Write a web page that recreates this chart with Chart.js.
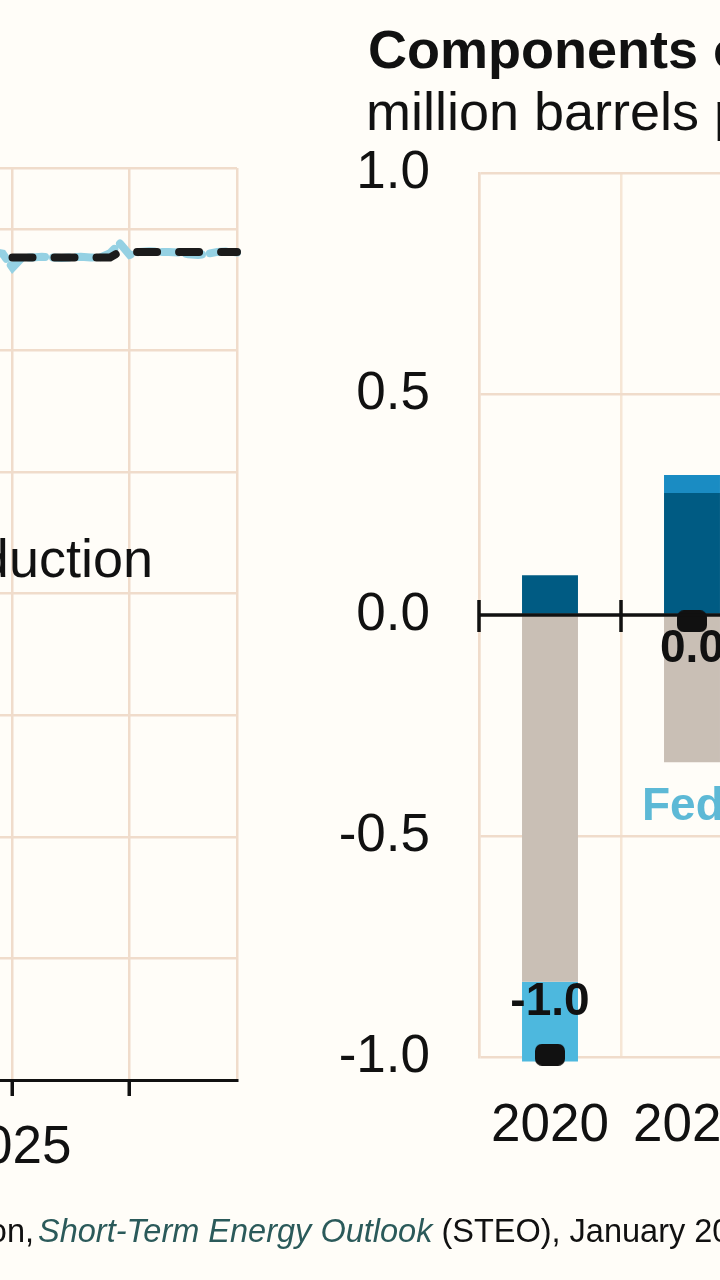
<!DOCTYPE html>
<html><head><meta charset="utf-8">
<script src="https://cdn.jsdelivr.net/npm/chart.js@4.4.1/dist/chart.umd.min.js"></script>
<style>
html,body{margin:0;padding:0;width:720px;height:1280px;overflow:hidden;background:#fffdf8;font-family:'Liberation Sans',Arial,sans-serif;color:#111;}
.t{position:absolute;white-space:nowrap;line-height:1;}
canvas{position:absolute;}
</style></head><body>
<canvas id="left" width="248" height="1280" style="left:-7px;top:0;width:248px;height:1280px"></canvas>
<canvas id="right" width="463" height="1280" style="left:300px;top:0;width:463px;height:1280px"></canvas>
<div class="t" style="left:368px;top:22px;font-size:54px;font-weight:bold">Components of annual change</div>
<div class="t" style="left:366px;top:84px;font-size:54px">million barrels per day</div>
<div class="t" style="right:567px;top:531px;font-size:54px;text-align:right">U.S. crude oil production</div>
<div class="t" style="left:642px;top:781px;font-size:46px;font-weight:bold;color:#5db9d6">Federal Gulf of Mexico</div>
<div class="t" style="right:686px;top:1215px;font-size:32.5px;text-align:right">Source: U.S. Energy Information Administration,</div>
<div class="t" style="left:38px;top:1215px;font-size:32.5px"><i style="color:#2b5a5a">Short-Term Energy Outlook</i> (STEO), January 2025</div>
<script>
// ---------- Left panel data (monthly, million barrels per day) ----------
const months = ['2024-11','2024-12',
  '2025-01','2025-02','2025-03','2025-04','2025-05','2025-06','2025-07','2025-08','2025-09','2025-10','2025-11','2025-12',
  '2026-01','2026-02','2026-03','2026-04','2026-05','2026-06','2026-07','2026-08','2026-09','2026-10','2026-11','2026-12'];
const forecast = [null,null,
  13.53,13.53,13.53,13.53,13.53,13.53,13.53,13.53,13.53,13.53,13.53,13.62,
  13.62,13.62,13.62,13.62,13.62,13.62,13.62,13.62,13.62,13.62,13.62,13.62];
const prior = [13.62,13.59,
  13.36,13.53,13.53,13.54,13.53,13.52,13.53,13.54,13.53,13.53,13.60,13.76,
  13.57,13.62,13.63,13.62,13.62,13.61,13.58,13.57,13.59,13.62,13.63,13.61];
const leftGrid = [0,2,4,6,8,10,12,14,15];
const leftYearLabels = ['2025'];

// ---------- Right panel data (annual change, million barrels per day) ----------
const years = ['2020','2021'];
const permian = [0.09, 0.276];
const alaska = [0.0, 0.041];
const otherL48 = [-0.83, -0.333];
const gom = [-0.18, 0.0];
const totals = [-0.995, -0.014];
const rightTicks = [-1.0,-0.5,0.0,0.5,1.0];

const GRID = '#f0dccb';
const FONT = 'Liberation Sans';

function makeMarker(w,h,r){
  const c=document.createElement('canvas');c.width=w;c.height=h;
  const g=c.getContext('2d');g.fillStyle='#111';
  g.beginPath();g.moveTo(r,0);g.lineTo(w-r,0);g.arcTo(w,0,w,r,r);g.lineTo(w,h-r);g.arcTo(w,h,w-r,h,r);
  g.lineTo(r,h);g.arcTo(0,h,0,h-r,r);g.lineTo(0,r);g.arcTo(0,0,r,0,r);g.closePath();g.fill();
  return c;
}
const marker = makeMarker(30,22,7);

new Chart(document.getElementById('left'), {
  type:'line',
  data:{labels:months, datasets:[
    {label:'STEO forecast', data:forecast, borderColor:'#1b1b1b', borderWidth:8, borderDash:[20,22], borderCapStyle:'round', pointRadius:0, tension:0, order:-1},
    {label:'Previous STEO', data:prior, borderColor:'#95d1e3', borderWidth:8, borderDash:[16,8], borderCapStyle:'round', pointRadius:0, tension:0}
  ]},
  options:{
    responsive:false, animation:false, events:[],
    layout:{autoPadding:false, padding:{top:168,right:4,left:0,bottom:0}},
    plugins:{legend:{display:false}, tooltip:{enabled:false}},
    scales:{
      x:{
        ticks:{autoSkip:false,maxRotation:0,minRotation:0,padding:0,color:'#111',font:{family:FONT,size:53,lineHeight:104/53},
          callback:(v,i)=>{const m=months[i];return (m.endsWith('-01') && leftYearLabels.includes(m.slice(0,4)))?m.slice(0,4):'';}},
        grid:{color:c=>{const m=months[c.index];return (m && (m.endsWith('-01')||c.index===months.length-1))?GRID:'rgba(0,0,0,0)';},
          lineWidth:2.5, tickLength:16, tickWidth:3.5,
          tickColor:c=>{const m=months[c.index];return (m && m.endsWith('-01'))?'#111':'rgba(0,0,0,0)';}},
        border:{display:true,color:'#111',width:3},
        afterFit:s=>{s.height=200;}
      },
      y:{min:0,max:15,
        afterBuildTicks:s=>{s.ticks=leftGrid.map(v=>({value:v}));},
        ticks:{display:false,padding:0}, grid:{color:GRID,lineWidth:2.5,drawTicks:false}, border:{display:false},
        afterFit:s=>{s.width=0;}
      }
    }
  }
});

const rightOverlay = {
  id:'rightOverlay',
  afterDatasetsDraw(chart){
    const {ctx, chartArea:a, scales:{x,y}} = chart;
    const y0 = y.getPixelForValue(0);
    const n = years.length;
    const w = (a.right-a.left)/n;
    ctx.save();
    ctx.strokeStyle='#111'; ctx.lineWidth=3.5; ctx.lineCap='butt';
    ctx.beginPath(); ctx.moveTo(a.left,y0); ctx.lineTo(a.right,y0); ctx.stroke();
    ctx.beginPath();
    for(let i=0;i<=n;i++){const bx=x.getPixelForValue(0)-w/2+i*w; ctx.moveTo(bx,y0-15); ctx.lineTo(bx,y0+17);}
    ctx.stroke();
    const meta = chart.getDatasetMeta(0);
    ctx.font='bold 46px "'+FONT+'"'; ctx.fillStyle='#111'; ctx.textAlign='center'; ctx.textBaseline='middle';
    meta.data.forEach((pt,i)=>{
      const v = totals[i];
      const txt = (Math.round(v*10)/10).toFixed(1);
      const nearBottom = v - 0.15 < y.min;
      const ty = nearBottom ? pt.y - 52 : pt.y + 28;
      ctx.fillText(txt, x.getPixelForValue(i), ty);
    });
    ctx.restore();
  }
};

new Chart(document.getElementById('right'), {
  type:'bar',
  data:{labels:years, datasets:[
    {type:'line', label:'Total change', data:totals, stack:'total', showLine:false, pointStyle:marker, pointRadius:12, order:-1, clip:false},
    {label:'Permian', data:permian, backgroundColor:'#005b83', clip:false},
    {label:'Alaska', data:alaska, backgroundColor:'#1a8cc3', clip:false},
    {label:'Other Lower 48', data:otherL48, backgroundColor:'#c9bfb5', clip:false},
    {label:'Federal Gulf of Mexico', data:gom, backgroundColor:'#4db8de', clip:false}
  ]},
  options:{
    responsive:false, animation:false, events:[],
    layout:{autoPadding:false, padding:{top:173,right:0,left:0,bottom:0}},
    plugins:{legend:{display:false}, tooltip:{enabled:false}},
    datasets:{bar:{categoryPercentage:1, barPercentage:0.394, borderWidth:0}},
    scales:{
      x:{stacked:true,
        grid:{offset:true,color:'#f6e6d5',lineWidth:2.5,drawTicks:true,tickLength:38,tickColor:'rgba(0,0,0,0)'},
        border:{display:false},
        ticks:{padding:0,color:'#111',font:{family:FONT,size:53},maxRotation:0,autoSkip:false},
        afterFit:s=>{s.height=223;}
      },
      y:{stacked:true,min:-1,max:1,
        afterBuildTicks:s=>{s.ticks=rightTicks.map(v=>({value:v}));},
        ticks:{padding:49,color:'#111',font:{family:FONT,size:53},callback:v=>Number(v).toFixed(1)},
        grid:{color:GRID,lineWidth:2.5,drawTicks:false},
        border:{display:true,color:GRID,width:2.5},
        afterFit:s=>{s.width=179;}
      }
    }
  },
  plugins:[rightOverlay]
});
</script>
</body></html>
